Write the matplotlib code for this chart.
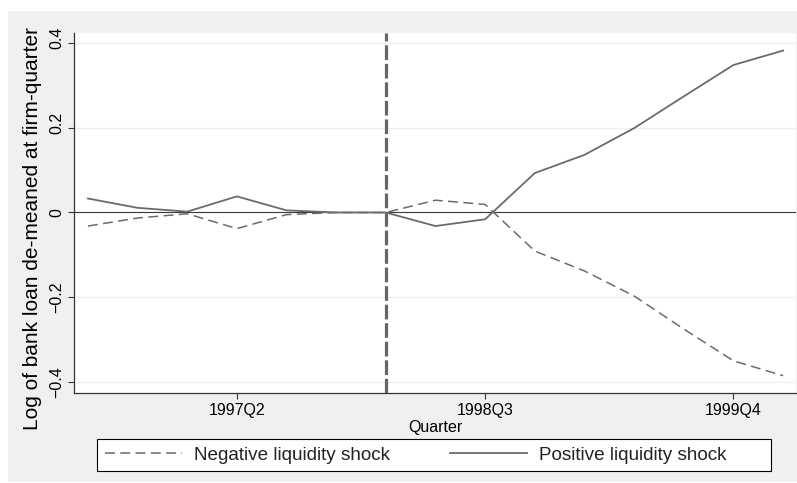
import matplotlib
matplotlib.use("Agg")
import matplotlib.pyplot as plt
from matplotlib.patches import Rectangle
from matplotlib.transforms import ScaledTranslation
import numpy as np

plt.rcParams['font.family'] = ['Liberation Sans', 'DejaVu Sans']

quarters = ['1996Q3', '1996Q4', '1997Q1', '1997Q2', '1997Q3', '1997Q4', '1998Q1',
            '1998Q2', '1998Q3', '1998Q4', '1999Q1', '1999Q2', '1999Q3', '1999Q4', '2000Q1']
negative_shock = [-0.032, -0.013, -0.003, -0.038, -0.005, 0.0, 0.0,
                  0.029, 0.019, -0.091, -0.138, -0.197, -0.275, -0.350, -0.385]
positive_shock = [0.033, 0.011, 0.002, 0.038, 0.005, 0.0, 0.0,
                  -0.032, -0.016, 0.093, 0.136, 0.199, 0.274, 0.348, 0.382]
event_quarter = '1998Q1'
xtick_labels = ['1997Q2', '1998Q3', '1999Q4']
yticks = [-0.4, -0.2, 0, 0.2, 0.4]
ytick_labels = ['\u22120.4', '\u22120.2', '0', '0.2', '0.4']

x = np.arange(len(quarters))
line_col = '#6b6b6b'

fig = plt.figure(figsize=(7.97, 4.83), dpi=100)
fig.patch.set_facecolor('white')
fig.patches.append(Rectangle((8/797, 1/483), 789/797, 471/483, transform=fig.transFigure,
                             facecolor='#eff0f2', edgecolor='none', zorder=-10))

ax = fig.add_axes([74/797, 1 - 393/483, 722/797, 360/483])
ax.set_facecolor('white')

for yv in yticks:
    ax.axhline(yv, color='#efefef', lw=0.9, zorder=1)
ax.axhline(0, color='#3a3a3a', lw=0.8, zorder=2)

ev = quarters.index(event_quarter)
ax.axvline(x[ev], color='#666666', lw=2.3, dashes=(4.6, 1.2), zorder=3)

ax.plot(x, negative_shock, color=line_col, lw=1.1, dashes=(6.5, 3.5), zorder=4,
        label='Negative liquidity shock')
ax.plot(x, positive_shock, color=line_col, lw=1.3, zorder=4,
        label='Positive liquidity shock')

ax.set_xlim(-0.28, 14.26)
ax.set_ylim(-0.4259, 0.4235)

ax.set_xticks([quarters.index(q) for q in xtick_labels])
ax.set_xticklabels(xtick_labels, fontsize=11.5)
ax.set_yticks(yticks)
ax.set_yticklabels(ytick_labels, fontsize=11.5, rotation=90, va='center')
ax.tick_params(axis='both', length=4, width=0.8, color='#333333', pad=3)
for lab in ax.get_yticklabels():
    if lab.get_text() in ('0.2', '0.4'):
        lab.set_transform(lab.get_transform() + ScaledTranslation(0, 5/100, fig.dpi_scale_trans))

for s in ['top', 'right']:
    ax.spines[s].set_visible(False)
for s in ['left', 'bottom']:
    ax.spines[s].set_color('#333333')
    ax.spines[s].set_linewidth(0.9)

ax.set_xlabel('Quarter', fontsize=11.5)
ax.xaxis.set_label_coords(0.5, -0.075)
ax.set_ylabel('Log of bank loan de-meaned at firm-quarter', fontsize=15)
ax.yaxis.set_label_coords(-0.0443, (393 - 229) / 360)

# legend frame
fig.patches.append(Rectangle((97/797, 12/483), 674/797, 32/483, transform=fig.transFigure,
                             facecolor='white', edgecolor='black', lw=0.8, zorder=5))
leg = fig.legend(loc='center left', bbox_to_anchor=(105/797, 28/483),
                 ncol=2, fontsize=13.6, frameon=False,
                 handlelength=4.07, handletextpad=0.63, columnspacing=3.2,
                 borderpad=0, borderaxespad=0)
leg.set_zorder(6)
for t in leg.get_texts():
    t.set_color('#222222')

fig.savefig('out.png', dpi=100)
